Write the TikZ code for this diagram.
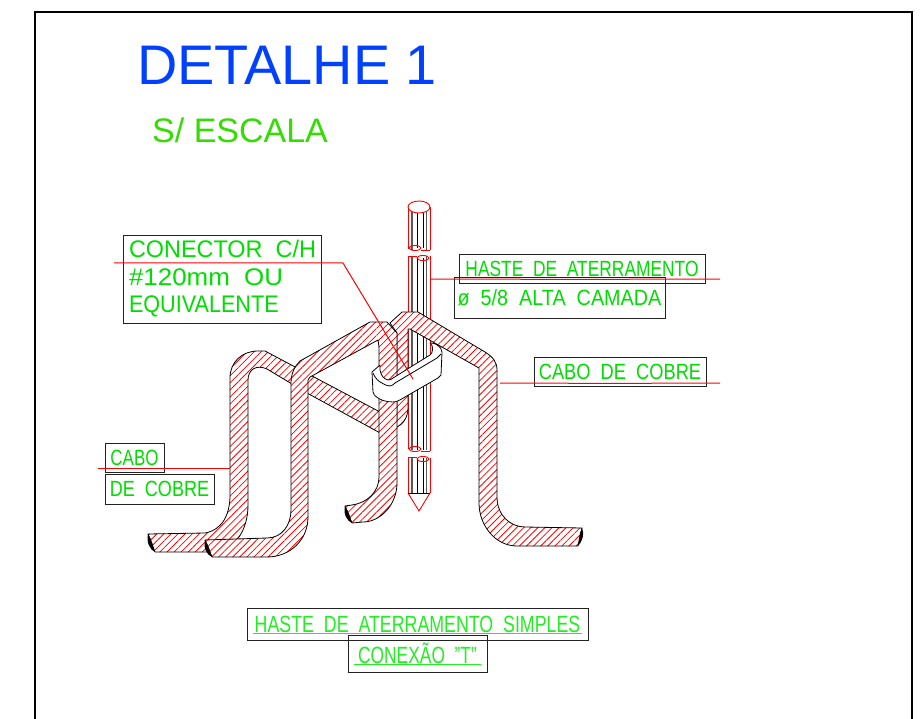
\documentclass[tikz,border=0pt]{standalone}
\usepackage{fontspec}
\setmainfont{Liberation Sans}
\usetikzlibrary{patterns.meta}
\definecolor{titleblue}{HTML}{0040FF}
\definecolor{scalegreen}{HTML}{33DD00}
\definecolor{labelgreen}{HTML}{00DD00}
\definecolor{thingreen}{HTML}{22EE22}
\definecolor{boxgray}{HTML}{222222}
\definecolor{leaderred}{HTML}{FF0000}
\newcommand{\narrow}[2]{\scalebox{#1}[1]{#2}}
\tikzset{
  tube/.style={draw=black, line width=0.8pt, line join=round, preaction={fill=white}, pattern={Lines[angle=45,distance=5pt,line width=0.8pt]}, pattern color=red},
  leader/.style={draw=leaderred, line width=1pt},
  rodred/.style={draw=red, line width=0.9pt},
  rodblack/.style={draw=black, line width=0.6pt},
  rodgray/.style={draw=black!65, line width=1.8pt},
  labelbox/.style={draw=boxgray, line width=0.9pt, text=labelgreen, font=\fontsize{22}{26}\selectfont, inner sep=0pt},
  bigbox/.style={labelbox, font=\fontsize{24}{27}\selectfont},
  thinbox/.style={draw=boxgray, line width=0.9pt, text=thingreen, font=\fontsize{23.5}{26}\selectfont, inner sep=0pt},
}
\begin{document}
\begin{tikzpicture}[x=1pt, y=-1pt]
\useasboundingbox (0,0) rectangle (923,719);
\draw[line width=1.5pt, black] (35,719) -- (35,12) -- (912,12) -- (912,719);
\node[anchor=base west, text=titleblue, font=\fontsize{55.8}{60}\selectfont, inner sep=0pt] (titulo) at (137,85) {DETALHE 1};
\node[anchor=base west, text=scalegreen, font=\fontsize{34}{38}\selectfont, inner sep=0pt] (escala) at (152,143) {S/ ESCALA};
\draw[rodgray] (412,212) -- (412,250) (412,256) -- (412,450) (412,458) -- (412,493);
\draw[rodgray] (426.5,212) -- (426.5,250) (426.5,256) -- (426.5,450) (426.5,458) -- (426.5,493);
\draw[rodblack] (417,212) -- (417,248) (417,258) -- (417,450) (417,458) -- (417,493);
\draw[rodblack] (423,212) -- (423,248) (423,258) -- (423,450) (423,458) -- (423,493);
\draw[rodred] (408,207) -- (408,249) (408,256) -- (408,449) (408,457) -- (408,493);
\draw[rodred] (430,207) -- (430,250) (430,256) -- (430,451) (430,458) -- (430,493);
\draw[rodred, fill=white] (419,207) ellipse [x radius=11, y radius=6];
\draw[rodred] (415,248) ellipse [x radius=6, y radius=2.5] (423,258) ellipse [x radius=6, y radius=2.5];
\draw[rodred] (415,449) ellipse [x radius=6, y radius=2.5] (423,459) ellipse [x radius=6, y radius=2.5];
\draw[rodred] (421,250) -- (430,250) (408,256) -- (417,256) (421,451) -- (430,451) (408,457) -- (417,457);
\draw[rodred] (408,493) -- (419,511) -- (430,493);
\draw[rodblack] (408,493) -- (430,493);
\draw[tube] (148,534) -- (205,533) .. controls (222,530) and (230,515) .. (230,495) -- (230,378) .. controls (230,362) and (242,351) .. (258,351) -- (265,351) -- (380,412) -- (397,421) -- (397,333) -- (390,323) -- (402,312) -- (418,312) -- (485,352) .. controls (493,357) and (497,362) .. (497,370) -- (497,497) .. controls (497,515) and (510,527) .. (525,527) -- (582,528) -- (578,546) -- (517,546) .. controls (495,546) and (479,525) .. (479,503) -- (479,368) -- (410,329) -- (408,329) -- (408,408) .. controls (408,418) and (402,425) .. (397,427) -- (393,440) -- (307,393) -- (267,369) .. controls (256,364) and (248,370) .. (248,380) -- (248,505) .. controls (248,530) and (235,552) .. (210,552) -- (155,552) -- cycle;
\fill[black] (148,534) .. controls (146,542) and (150,550) .. (155,552) .. controls (153,546) and (152,540) .. (148,534) -- cycle;
\fill[black] (582,528) .. controls (585,534) and (582,542) .. (578,546) .. controls (579,540) and (579,534) .. (582,528) -- cycle;
\draw[tube] (205,540) -- (267,538) .. controls (282,538) and (291,525) .. (291,510) -- (291,383) .. controls (291,373) and (295,366) .. (300,361) -- (370,322) -- (387,322) -- (397,333) -- (397,483) .. controls (397,505) and (380,522) .. (363,522) -- (352,523) -- (345,506) -- (352,505) .. controls (367,503) and (379,492) .. (379,477) -- (379,347) -- (378,340) -- (310,377) -- (308,380) -- (308,517) .. controls (308,540) and (290,557) .. (267,557) -- (212,557) -- cycle;
\fill[black] (205,540) .. controls (203,548) and (207,555) .. (212,557) .. controls (210,551) and (209,546) .. (205,540) -- cycle;
\fill[black] (345,506) .. controls (343,514) and (347,521) .. (352,523) .. controls (350,517) and (349,512) .. (345,506) -- cycle;
\draw[draw=black, line width=0.8pt, fill=white, line join=round] (372,372) -- (380,365) -- (380,370) .. controls (381,376) and (384,379) .. (388,380) .. controls (390,380) and (392,379) .. (393,378) -- (430,355) .. controls (433,353) and (434,346) .. (430,343) .. controls (434,343) and (436,344) .. (437,345) .. controls (440,347) and (442,349) .. (442,352) -- (441,375) -- (438,378) -- (405,397) .. controls (400,400) and (397,402) .. (393,402) .. controls (386,402) and (381,400) .. (378,398) .. controls (375,396) and (373,394) .. (373,392) -- cycle;
\draw[black, line width=0.8pt] (373,373) .. controls (375,378) and (379,382) .. (382,383) .. controls (385,385) and (388,386) .. (390,386) .. controls (392,386) and (394,384) .. (395,383) -- (437,358) -- (441,354);
\node[bigbox, minimum width=198, minimum height=88, align=left] (conector) at (222.5,279) {\narrow{0.976}{CONECTOR~~C/H}\\[1pt]\narrow{1.08}{\#120mm~~OU}\\[0pt]\narrow{0.9}{EQUIVALENTE}};
\node[labelbox, minimum width=246, minimum height=29] (haste) at (582,268.5) {\narrow{0.79}{HASTE~~DE~~ATERRAMENTO}};
\node[labelbox, minimum width=211, minimum height=41] (diametro) at (559.5,297.5) {\narrow{0.9}{ø~~5/8~~ALTA~~CAMADA}};
\node[labelbox, minimum width=172, minimum height=29] (cabodir) at (620,371.5) {\narrow{0.83}{CABO~~DE~~COBRE}};
\node[labelbox, minimum width=59, minimum height=29] (cabo) at (134.5,457.5) {\narrow{0.77}{CABO}};
\node[labelbox, minimum width=109, minimum height=30] (decobre) at (159.5,489) {\narrow{0.82}{DE~~COBRE}};
\node[thinbox, minimum width=341, minimum height=32] (simples) at (417.5,624) {\narrow{0.757}{HASTE~~DE~~ATERRAMENTO~~SIMPLES}};
\node[thinbox, minimum width=139, minimum height=37] (conexao) at (417.5,653.5) {\narrow{0.74}{CONEXÃO~~"T"}};
\draw[thingreen, line width=0.8pt] (253,633.5) -- (582,633.5) (354,664.5) -- (481,664.5);
\coordinate (conectorini) at (114,263);
\coordinate (conectorcanto) at (343,263);
\coordinate (conectorfim) at (413,379);
\coordinate (hasteini) at (430,279);
\coordinate (hastemeio) at (575,279.4);
\coordinate (hastefim) at (720,279);
\coordinate (cabodirini) at (500,383);
\coordinate (cabodirmeio) at (610,383.4);
\coordinate (cabodirfim) at (720,383);
\coordinate (caboini) at (98,468);
\coordinate (cabofim) at (230,468);
\draw[leader] (conectorini) -- (conectorcanto) -- (conectorfim);
\draw[leader] (hasteini) -- (hastemeio) -- (hastefim);
\draw[leader] (cabodirini) -- (cabodirmeio) -- (cabodirfim);
\draw[leader] (caboini) -- (cabofim);
\end{tikzpicture}
\end{document}
